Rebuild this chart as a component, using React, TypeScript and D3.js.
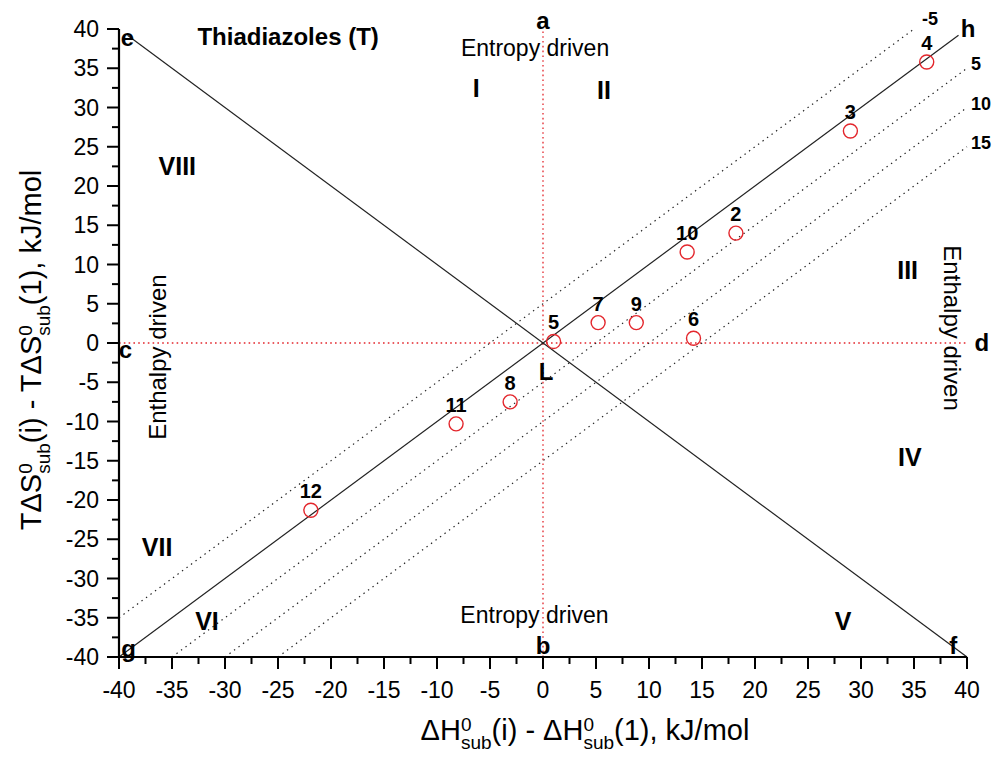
import React from 'react';
import * as d3 from 'd3';

// Enthalpy-entropy compensation map, thiadiazoles vs compound 1.
// x: ΔH(i) - ΔH(1), y: TΔS(i) - TΔS(1). Dotted lines are iso-ΔG lines (y = x - ΔG).

const compoundIds = ['2', '3', '4', '5', '6', '7', '8', '9', '10', '11', '12'];
const dH = [18.2, 29.0, 36.2, 1.0, 14.2, 5.2, -3.1, 8.8, 13.6, -8.2, -21.9];
const TdS = [14.0, 27.0, 35.8, 0.2, 0.6, 2.6, -7.5, 2.6, 11.6, -10.3, -21.3];

const isoLevels = [-5, 5, 10, 15];
const majorTicks = d3.range(-40, 41, 5);
const minorTicks = d3.range(-37.5, 40, 5);

const regionNames = ['I', 'II', 'III', 'IV', 'V', 'VI', 'VII', 'VIII'];
const regionAt = [[-6.3, 32.5], [5.75, 32.2], [34.4, 9.3], [34.6, -14.5], [28.3, -35.5], [-31.7, -35.5], [-36.4, -26], [-34.5, 22.5]];

const cornerNames = ['a', 'b', 'c', 'd', 'e', 'f', 'g', 'h', 'L'];
const cornerAt = [[0, 41.1], [0, -38.5], [-39.4, -0.9], [41.4, 0], [-39.2, 38.9], [38.7, -38.5], [-39.1, -38.9], [40.1, 40.0], [0.3, -3.7]];

const WIDTH = 992;
const HEIGHT = 757;
const FONT = 'Liberation Sans, Arial, Helvetica, sans-serif';
const RED = '#e3262c';

const x = d3.scaleLinear().domain([-40, 40]).range([119, 967]);
const y = d3.scaleLinear().domain([-40, 40]).range([657, 29]);

export default function App() {
  const [x0, x1] = x.domain();
  const [y0, y1] = y.domain();

  const isoLines = isoLevels.map(g => {
    const xs = Math.max(x0, y0 + g);
    const xe = Math.min(x1, y1 + g);
    return { g, xs, ys: xs - g, xe, ye: xe - g, clippedTop: xe < x1 };
  });

  return (
    <div style={{ position: 'absolute', left: 0, top: 0, background: '#fff' }}>
      <svg width={WIDTH} height={HEIGHT} style={{ display: 'block', fontFamily: FONT }}>
        <rect width={WIDTH} height={HEIGHT} fill="#fff" />

        {/* red zero lines */}
        <line x1={x(0)} x2={x(0)} y1={y(y0)} y2={y(y1)} stroke={RED} strokeWidth={1.3} strokeDasharray="1.6,3.2" />
        <line x1={x(x0)} x2={x(x1)} y1={y(0)} y2={y(0)} stroke={RED} strokeWidth={1.3} strokeDasharray="1.6,3.2" />

        {/* iso-ΔG dotted lines */}
        {isoLines.map(l => (
          <g key={l.g}>
            <line x1={x(l.xs)} y1={y(l.ys)} x2={x(l.xe)} y2={y(l.ye)}
              stroke="#222" strokeWidth={1.2} strokeDasharray="1.4,4.2" />
            <text x={x(l.xe) + (l.clippedTop ? 8 : 4)} y={y(l.ye) + (l.clippedTop ? -4 : 2)}
              fontSize={18} fontWeight="bold">{l.g}</text>
          </g>
        ))}

        {/* diagonals g-h and e-f */}
        <line x1={x(-40)} y1={y(-40)} x2={x(39.2)} y2={y(39.2)} stroke="#222" strokeWidth={1.2} />
        <line x1={x(-39.2)} y1={y(39.2)} x2={x(40)} y2={y(-40)} stroke="#222" strokeWidth={1.2} />

        {/* axes */}
        <line x1={x(x0)} x2={x(x1)} y1={y(y0)} y2={y(y0)} stroke="#000" strokeWidth={2.2} />
        <line x1={x(x0)} x2={x(x0)} y1={y(y0)} y2={y(y1)} stroke="#000" strokeWidth={2.2} />
        {majorTicks.map(t => (
          <g key={'mx' + t}>
            <line x1={x(t)} x2={x(t)} y1={y(y0)} y2={y(y0) + 12} stroke="#000" strokeWidth={2} />
            <text x={x(t)} y={y(y0) + 41} fontSize={23} textAnchor="middle">{t}</text>
            <line x1={x(x0)} x2={x(x0) - 12} y1={y(t)} y2={y(t)} stroke="#000" strokeWidth={2} />
            <text x={x(x0) - 20} y={y(t)} dy="0.35em" fontSize={23} textAnchor="end">{t}</text>
          </g>
        ))}
        {minorTicks.map(t => (
          <g key={'mn' + t}>
            <line x1={x(t)} x2={x(t)} y1={y(y0)} y2={y(y0) + 7} stroke="#000" strokeWidth={2} />
            <line x1={x(x0)} x2={x(x0) - 7} y1={y(t)} y2={y(t)} stroke="#000" strokeWidth={2} />
          </g>
        ))}

        {/* axis titles */}
        <text x={585} y={740} fontSize={29} textAnchor="middle">
          ΔH<tspan fontSize={19} dy={-9}>0</tspan><tspan fontSize={19} dx={-10.6} dy={18}>sub</tspan>
          <tspan dy={-9}>(i) - ΔH</tspan><tspan fontSize={19} dy={-9}>0</tspan><tspan fontSize={19} dx={-10.6} dy={18}>sub</tspan>
          <tspan dy={-9}>(1), kJ/mol</tspan>
        </text>
        <text transform="translate(41,350) rotate(-90)" fontSize={29} textAnchor="middle">
          TΔS<tspan fontSize={19} dy={-9}>0</tspan><tspan fontSize={19} dx={-10.6} dy={18}>sub</tspan>
          <tspan dy={-9}>(i) - TΔS</tspan><tspan fontSize={19} dy={-9}>0</tspan><tspan fontSize={19} dx={-10.6} dy={18}>sub</tspan>
          <tspan dy={-9}>(1), kJ/mol</tspan>
        </text>

        {/* annotations */}
        <text x={x(-32.6)} y={y(39.0)} dy="0.35em" fontSize={24} fontWeight="bold">Thiadiazoles (T)</text>
        <text x={x(-0.75)} y={y(37.6)} dy="0.35em" fontSize={23} textAnchor="middle">Entropy driven</text>
        <text x={x(-0.8)} y={y(-34.65)} dy="0.35em" fontSize={23} textAnchor="middle">Entropy driven</text>
        <text transform={`translate(${x(-36.4)},${y(-1.8)}) rotate(-90)`} dy="0.35em" fontSize={24} textAnchor="middle">Enthalpy driven</text>
        <text transform={`translate(${x(38.6)},${y(1.9)}) rotate(90)`} dy="0.35em" fontSize={24} textAnchor="middle">Enthalpy driven</text>

        {regionNames.map((r, i) => (
          <text key={r} x={x(regionAt[i][0])} y={y(regionAt[i][1])} dy="0.35em"
            fontSize={25} fontWeight="bold" textAnchor="middle">{r}</text>
        ))}
        {cornerNames.map((c, i) => (
          <text key={c} x={x(cornerAt[i][0])} y={y(cornerAt[i][1])} dy="0.35em"
            fontSize={24} fontWeight="bold" textAnchor="middle">{c}</text>
        ))}

        {/* compounds */}
        {compoundIds.map((id, i) => (
          <g key={id}>
            <circle cx={x(dH[i])} cy={y(TdS[i])} r={7} fill="none" stroke={RED} strokeWidth={1.4} />
            <text x={x(dH[i])} y={y(TdS[i]) - 12} fontSize={20} fontWeight="bold" textAnchor="middle">{id}</text>
          </g>
        ))}
      </svg>
    </div>
  );
}
